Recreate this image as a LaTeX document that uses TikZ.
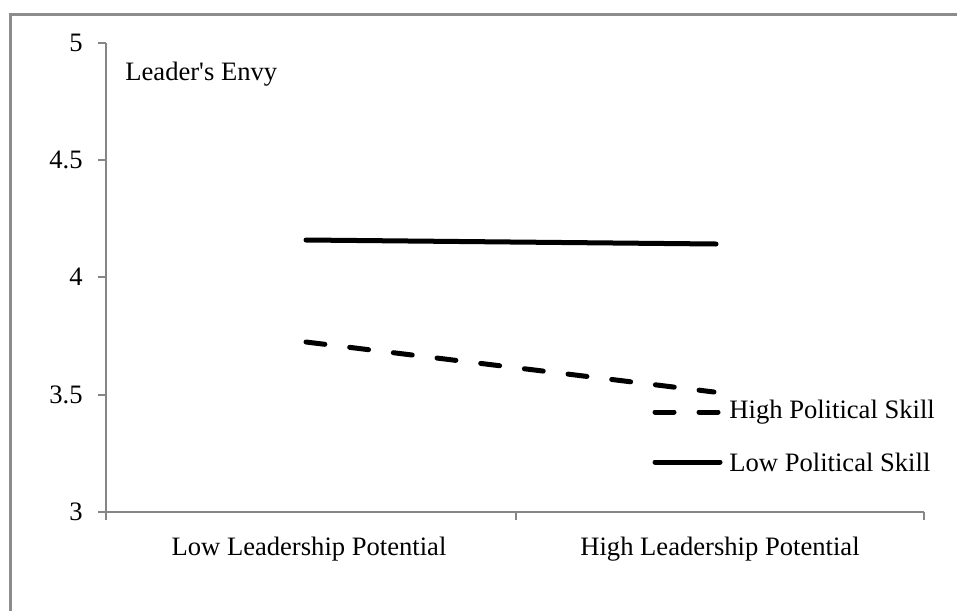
\documentclass[tikz,border=0pt]{standalone}
\usepackage{fontspec}
\setmainfont{Liberation Serif}
\usetikzlibrary{positioning}

\definecolor{framegray}{RGB}{140,140,140}
\definecolor{axisgray}{RGB}{134,134,134}

\tikzset{
  lbl/.style={font=\fontsize{13.3}{15}\selectfont, inner sep=0pt},
  axisline/.style={draw=axisgray, line width=1pt},
  loline/.style={line width=2.5pt, line cap=round},
  hiline/.style={loline, dash pattern=on 9.5pt off 12.5pt},
}

\begin{document}
\begin{tikzpicture}[x=0.5pt,y=-0.5pt]
\useasboundingbox (0,0) rectangle (957,611);
% outer frame (top and left only)
\draw [framegray, line width=1.5pt] (10,611) -- (10,14) -- (957,14);

% axes
\coordinate (o) at (106,512);
\coordinate (ytop) at (106,43);
\coordinate (xend) at (924,512);
\draw [axisline] (ytop) -- (o) -- (xend);
\foreach \v/\y/\n in {3/512/a,3.5/395/b,4/277/c,4.5/160/d,5/43/e}
{
  \draw [axisline] (98,\y) -- (106,\y);
  \node [lbl, anchor=east] (tick\n) at (83,\y) {\v};
}
\foreach \x in {106,516,924}
  \draw [axisline] (\x,512) -- (\x,520);

\node [lbl] (lowlp) at (309,549) {Low Leadership Potential};
\node [lbl] (highlp) at (720,549) {High Leadership Potential};
\node [lbl, anchor=west] (envy) at (125,74) {Leader\textquotesingle s Envy};

% lines
\coordinate (lowps1) at (306,240);
\coordinate (lowps2) at (716,244);
\coordinate (highps1) at (306,342);
\coordinate (highps2) at (714,392);
\draw [loline] (lowps1) -- (lowps2);
\draw [hiline] (highps1) -- (highps2);

% legend
\coordinate (leghi1) at (655,412);
\coordinate (leghi2) at (720,412);
\coordinate (leglo1) at (655,462);
\coordinate (leglo2) at (720,462);
\draw [hiline] (leghi1) -- (leghi2);
\draw [loline] (leglo1) -- (leglo2);
\node [lbl, anchor=west, right=4.5pt of leghi2] (highps) {High Political Skill};
\node [lbl, anchor=west, right=4.5pt of leglo2] (lowps) {Low Political Skill};
\end{tikzpicture}
\end{document}
